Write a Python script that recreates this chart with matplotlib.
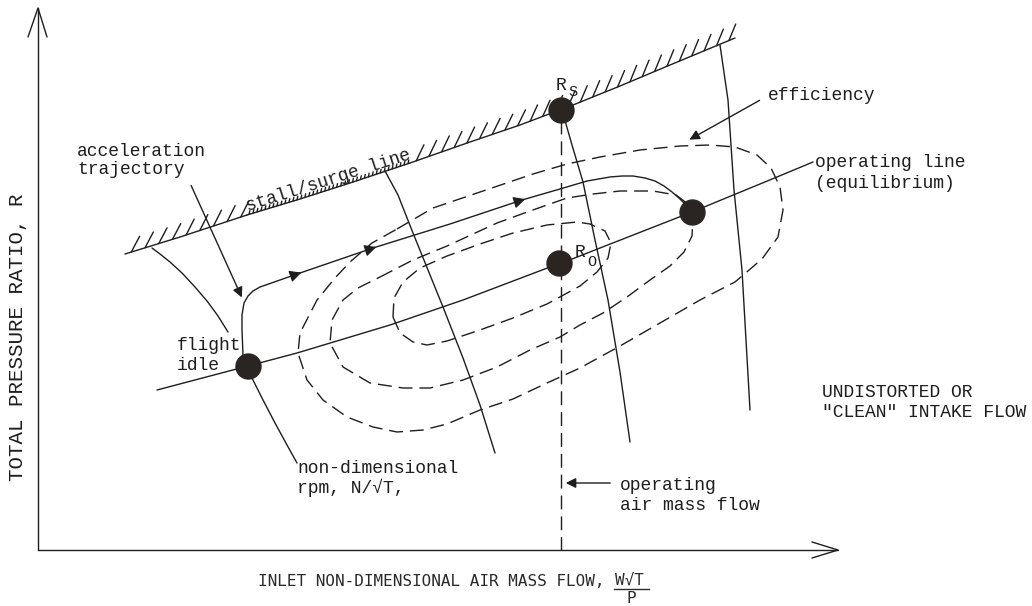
import numpy as np
import matplotlib.pyplot as plt
from matplotlib import patheffects as pe

# sheet units are pixels of the 1032x606 drawing, y grows downwards
plt.rcParams['font.family'] = ['Liberation Mono', 'DejaVu Sans Mono']
ink = '#1e1e1e'

# stall / surge line
stall_x = [125, 180, 247, 300, 350, 410, 470, 520, 573, 620, 670, 735]
stall_y = [254, 237, 215, 199, 183, 163, 142, 125, 105, 86, 65, 38]

# operating line (equilibrium)
oper_x = [157, 248, 297, 390, 463, 550, 562, 600, 692, 777, 813]
oper_y = [390, 366, 353, 325, 300, 267, 263, 248, 212, 177, 162]

# acceleration trajectory
accel_x = [248, 243, 242, 242, 244, 248, 253, 260, 300, 373, 450, 522, 560, 587, 610, 622, 633,
           645, 655, 664, 672, 679, 685, 690]
accel_y = [366, 355, 330, 315, 303, 296, 291, 287, 273, 248, 224, 200, 189, 181, 177, 176, 176,
           178, 181, 186, 192, 198, 204, 209]
accel_arrow_x = [298, 373, 522]

# constant non-dimensional rpm lines
rpm1a_x = [152, 160, 170, 182, 195, 207, 218, 228]
rpm1a_y = [248, 254, 262, 273, 287, 301, 316, 332]
rpm1b_x = [248, 252, 262, 275, 287, 297]
rpm1b_y = [366, 378, 398, 423, 445, 463]
rpm2_x = [385, 398, 413, 428, 443, 463, 480, 495]
rpm2_y = [171, 195, 233, 270, 307, 358, 405, 453]
rpm3_x = [562, 572, 583, 595, 608, 620, 630]
rpm3_y = [110, 145, 182, 240, 300, 372, 442]
rpm4_x = [720, 728, 734, 742, 746, 750]
rpm4_y = [45, 100, 190, 270, 340, 410]

# efficiency contours (outer, middle, inner)
eff3_x = [397, 433, 483, 533, 567, 600, 640, 680, 710, 735, 757, 771, 780, 783, 778, 762, 735, 700,
          660, 620, 580, 547, 513, 480, 447, 423, 397, 373, 347, 323, 307, 298, 300, 317, 335, 350, 372, 397]
eff3_y = [229, 208, 191, 174, 164, 157, 150, 146, 145, 147, 155, 168, 187, 210, 237, 259, 282, 300,
          323, 346, 368, 383, 399, 410, 424, 430, 432, 427, 417, 400, 380, 353, 333, 300, 278, 262, 243, 229]
eff2_x = [380, 413, 447, 497, 530, 567, 593, 620, 653, 676, 688, 693, 692, 684, 670, 650, 627, 603, 580,
          560, 530, 497, 463, 430, 403, 370, 343, 330, 332, 343, 358, 380]
eff2_y = [277, 260, 246, 223, 211, 198, 194, 191, 191, 195, 204, 218, 236, 252, 266, 280, 297, 313, 325,
          337, 350, 367, 380, 388, 388, 383, 367, 343, 320, 300, 288, 277]
eff1_x = [393, 400, 413, 427, 447, 480, 513, 547, 580, 597, 608, 611, 605, 590, 577, 547, 513, 480,
          447, 420, 403, 394, 393]
eff1_y = [317, 333, 342, 345, 341, 330, 318, 304, 286, 272, 258, 243, 231, 224, 222, 225, 233, 244,
          256, 268, 282, 298, 317]

# operating points: flight idle, R_O, R_S, end of acceleration
dot_x = [248, 559, 561, 692]
dot_y = [366, 263, 110, 212]

flow_x = 561
axis_x0, axis_y0 = 38, 550
axis_top, axis_right = 8, 838

fig = plt.figure(figsize=(10.32, 6.06), dpi=100)
ax = fig.add_axes([0, 0, 1, 1])
ax.set_xlim(0, 1032)
ax.set_ylim(606, 0)
ax.axis('off')

line_kw = dict(color=ink, lw=1.0, solid_capstyle='round', solid_joinstyle='round')
dash_kw = dict(color=ink, lw=1.0, linestyle=(0, (10, 5)))

# axes with open arrow heads
ax.plot([axis_x0, axis_x0], [axis_y0, axis_top], **line_kw)
ax.plot([axis_x0, axis_right], [axis_y0, axis_y0], **line_kw)
ax.plot([axis_x0 - 10, axis_x0, axis_x0 + 9], [axis_top + 29, axis_top, axis_top + 29], **line_kw)
ax.plot([axis_right - 26, axis_right, axis_right - 26], [axis_y0 - 8, axis_y0, axis_y0 + 8], **line_kw)

# stall line with hatching (small ticks under its label)
big = [pe.withTickedStroke(spacing=9.5, angle=45, length=1.35)]
small = [pe.withTickedStroke(spacing=3, angle=60, length=0.9)]
ax.plot(stall_x[:3], stall_y[:3], path_effects=big, **line_kw)
ax.plot(stall_x[2:6], stall_y[2:6], path_effects=small, **line_kw)
ax.plot(stall_x[5:], stall_y[5:], path_effects=big, **line_kw)
ax.text(248, 211, 'stall/surge line', rotation=17.7, rotation_mode='anchor',
        ha='left', va='baseline', fontsize=13, color=ink)

# efficiency contours
for xs, ys in [(eff1_x, eff1_y), (eff2_x, eff2_y), (eff3_x, eff3_y)]:
    ax.plot(xs, ys, **dash_kw)

# rpm lines
for xs, ys in [(rpm1a_x, rpm1a_y), (rpm1b_x, rpm1b_y), (rpm2_x, rpm2_y),
               (rpm3_x, rpm3_y), (rpm4_x, rpm4_y)]:
    ax.plot(xs, ys, **line_kw)

# operating line and acceleration trajectory
ax.plot(oper_x, oper_y, **line_kw)
ax.plot(accel_x, accel_y, **line_kw)
xs, ys = accel_x[7:], accel_y[7:]
for x in accel_arrow_x:
    y0, y1 = np.interp([x - 6, x + 6], xs, ys)
    ax.annotate('', xy=(x + 6, y1), xytext=(x - 6, y0),
                arrowprops=dict(arrowstyle='-|>', color=ink, lw=0.8, mutation_scale=18))

# operating air mass flow
ax.plot([flow_x, flow_x], [dot_y[2] + 10, axis_y0], **dash_kw)

ax.plot(dot_x, dot_y, 'o', ms=18, color='#2a2522', zorder=5)

# labels and pointer arrows
arr = dict(arrowstyle='-|>', color=ink, lw=1.0, mutation_scale=15)
fs = 13
ax.text(77, 156, 'acceleration', fontsize=fs, color=ink, va='baseline')
ax.text(77, 174, 'trajectory', fontsize=fs, color=ink, va='baseline')
ax.annotate('', xy=(243, 300), xytext=(190, 183), arrowprops=arr)

ax.text(177, 350, 'flight', fontsize=fs, color=ink, va='baseline')
ax.text(177, 370, 'idle', fontsize=fs, color=ink, va='baseline')

ax.text(297, 473, 'non-dimensional', fontsize=fs, color=ink, va='baseline')
ax.text(297, 493, 'rpm, N/√T,', fontsize=fs, color=ink, va='baseline')

ax.text(768, 100, 'efficiency', fontsize=fs, color=ink, va='baseline')
ax.annotate('', xy=(687, 141), xytext=(762, 99), arrowprops=arr)

ax.text(815, 167, 'operating line', fontsize=fs, color=ink, va='baseline')
ax.text(815, 188, '(equilibrium)', fontsize=fs, color=ink, va='baseline')

ax.text(620, 490, 'operating', fontsize=fs, color=ink, va='baseline')
ax.text(620, 510, 'air mass flow', fontsize=fs, color=ink, va='baseline')
ax.annotate('', xy=(flow_x + 2, 483), xytext=(613, 483), arrowprops=arr)

ax.text(822, 397, 'UNDISTORTED OR', fontsize=fs, color=ink, va='baseline')
ax.text(822, 417, '"CLEAN" INTAKE FLOW', fontsize=fs, color=ink, va='baseline')

ax.text(556, 90, 'R', fontsize=fs, color=ink, va='baseline')
ax.text(568, 96, 'S', fontsize=11, color=ink, va='baseline')
ax.text(575, 257, 'R', fontsize=fs, color=ink, va='baseline')
ax.text(587, 266, 'O', fontsize=11, color=ink, va='baseline')

# axis titles
ax.text(18, 337, 'TOTAL PRESSURE RATIO, R', rotation=90, ha='center', va='center',
        fontsize=15, color=ink)
ax.text(258, 586, 'INLET NON-DIMENSIONAL AIR MASS FLOW,', fontsize=11.5, color='#2a2a2a',
        va='baseline', family='DejaVu Sans Mono')
ax.text(615, 584, 'W√T', fontsize=11.5, color='#2a2a2a', va='baseline', family='DejaVu Sans Mono')
ax.plot([614, 649], [589, 589], color='#2a2a2a', lw=1.0)
ax.text(631, 603, 'P', fontsize=11.5, color='#2a2a2a', va='baseline', ha='center',
        family='DejaVu Sans Mono')

fig.savefig('out.png', dpi=100, facecolor='white')
